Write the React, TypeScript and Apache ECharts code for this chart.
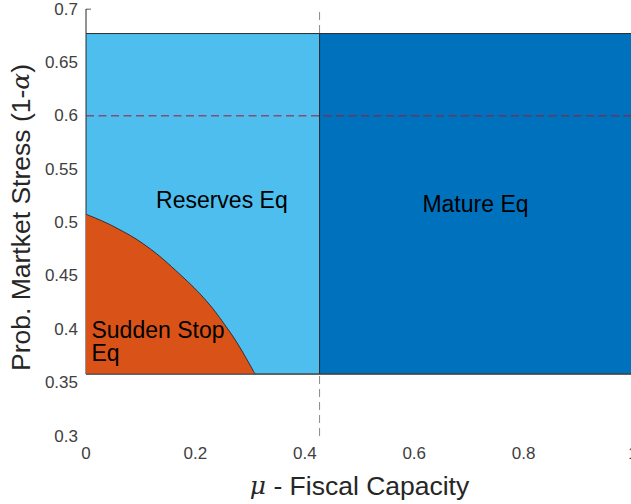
import React, { useEffect, useRef } from "react";
import * as echarts from "echarts";

// Axis ranges / ticks
const xRange = [0, 1];
const xInterval = 0.2;
const yRange = [0.3, 0.7];
const yInterval = 0.05;

// Equilibrium regions (data coordinates)
const reservesPolygon = [
  [0, 0.358],
  [0, 0.677],
  [0.427, 0.677],
  [0.427, 0.358],
];
const maturePolygon = [
  [0.427, 0.358],
  [0.427, 0.677],
  [1, 0.677],
  [1, 0.358],
];
// Sudden stop boundary curve
const suddenStopX = [0, 0.05, 0.111, 0.172, 0.221, 0.258, 0.282, 0.309];
const suddenStopY = [0.5077, 0.4964, 0.4777, 0.4513, 0.426, 0.4011, 0.3824, 0.358];
const regionFloor = 0.358;

// Reference lines
const muThreshold = 0.427;
const stressLevel = 0.6;

// Region labels
const labelTexts = ["Reserves Eq", "Mature Eq", "Sudden Stop", "Eq"];
const labelX = [0.128, 0.615, 0.01, 0.01];
const labelY = [0.521, 0.517, 0.3994, 0.3779];

const regionColors = ["#4DBEEE", "#0072BD"];
const suddenColor = "#D95319";

export default function App() {
  const ref = useRef<HTMLDivElement>(null);
  useEffect(() => {
    if (!ref.current) return;
    const chart = echarts.init(ref.current, null, { renderer: "svg" });
    const polygons = [reservesPolygon, maturePolygon];
    const fontFamily = "'Liberation Sans', Arial, Helvetica, sans-serif";
    chart.setOption({
      animation: false,
      grid: {
        left: 86,
        top: 9,
        right: -2,
        bottom: 68,
        containLabel: false,
        outerBoundsMode: "none",
      },
      xAxis: {
        type: "value",
        min: xRange[0],
        max: xRange[1],
        interval: xInterval,
        axisLine: { show: false },
        axisTick: { show: false },
        splitLine: { show: false },
        axisLabel: { color: "#404040", fontSize: 17, fontFamily, margin: 9 },
        name: "{i|μ}{a| - Fiscal Capacity}",
        nameLocation: "middle",
        nameGap: 36,
        nameTextStyle: {
          rich: {
            i: { fontFamily: "'DejaVu Serif', serif", fontStyle: "italic", fontSize: 25, color: "#262626" },
            a: { fontFamily, fontSize: 26.5, color: "#262626" },
          },
        },
      },
      yAxis: {
        type: "value",
        min: yRange[0],
        max: yRange[1],
        interval: yInterval,
        axisLine: { show: false },
        axisTick: { show: false },
        splitLine: { show: false },
        axisLabel: { color: "#404040", fontSize: 17, fontFamily, margin: 8 },
        name: "{a|Prob. Martket Stress (1-}{i|α}{a|)}",
        nameLocation: "middle",
        nameGap: 51,
        nameTextStyle: {
          padding: [0, 0, 0, 10],
          rich: {
            i: { fontFamily: "'DejaVu Serif', serif", fontStyle: "italic", fontSize: 25, color: "#262626" },
            a: { fontFamily, fontSize: 26.5, color: "#262626" },
          },
        },
      },
      series: [
        {
          type: "line",
          z: 1,
          data: [
            [muThreshold, yRange[0]],
            [muThreshold, yRange[1]],
          ],
          symbol: "none",
          lineStyle: { color: "#8a8a8a", width: 1, type: [8, 5] },
        },
        {
          type: "custom",
          z: 2,
          renderItem: (params: any, api: any) => {
            const idx = api.value(2);
            const pts = polygons[idx].map((p) => api.coord(p));
            return {
              type: "polygon",
              shape: { points: pts },
              style: { fill: regionColors[idx], stroke: "#2a2a2a", lineWidth: 1 },
            };
          },
          data: [
            [0.2, 0.5, 0],
            [0.7, 0.5, 1],
          ],
        },
        {
          type: "line",
          z: 3,
          data: suddenStopX.map((x, i) => [x, suddenStopY[i]]),
          symbol: "none",
          smooth: 0.4,
          lineStyle: { color: "#1a1a1a", width: 0.8 },
          areaStyle: { color: suddenColor, opacity: 1, origin: regionFloor },
        },
        {
          type: "line",
          z: 4,
          data: [
            [0, regionFloor],
            [1, regionFloor],
          ],
          symbol: "none",
          lineStyle: { color: "#4a4a4a", width: 1 },
        },
        {
          type: "line",
          z: 4,
          data: [
            [0, yRange[1]],
            [0, reservesPolygon[1][1]],
          ],
          symbol: "none",
          lineStyle: { color: "#262626", width: 1 },
        },
        {
          type: "line",
          z: 4,
          data: [
            [0, yRange[1]],
            [0.009, yRange[1]],
          ],
          symbol: "none",
          lineStyle: { color: "#262626", width: 1 },
        },
        {
          type: "line",
          z: 5,
          data: [
            [0, stressLevel],
            [1, stressLevel],
          ],
          symbol: "none",
          lineStyle: { color: "#A2142F", opacity: 0.65, width: 1.5, type: [8, 4.5] },
        },
        {
          type: "custom",
          z: 6,
          renderItem: (params: any, api: any) => {
            const idx = api.value(2);
            const p = api.coord([api.value(0), api.value(1)]);
            return {
              type: "text",
              x: p[0],
              y: p[1],
              style: {
                text: labelTexts[idx],
                fontSize: 23,
                lineHeight: 22,
                fontFamily,
                fill: "#000",
                align: "left",
                verticalAlign: "middle",
              },
            };
          },
          data: labelTexts.map((_, i) => [labelX[i], labelY[i], i]),
        },
      ],
    });
    return () => chart.dispose();
  }, []);
  return (
    <div
      ref={ref}
      style={{ position: "absolute", left: 0, top: 0, width: 631, height: 504 }}
    />
  );
}
